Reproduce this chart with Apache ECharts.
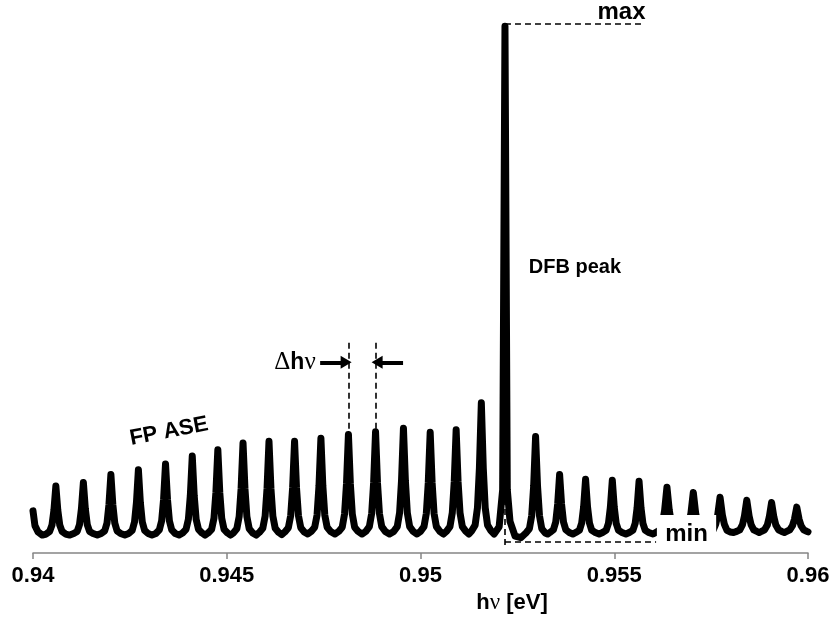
<!DOCTYPE html>
<html>
<head>
<meta charset="utf-8">
<script src="https://cdn.jsdelivr.net/npm/echarts@6/dist/echarts.min.js"></script>
<style>
  html, body { margin: 0; padding: 0; background: #ffffff; }
  #chart { width: 833px; height: 622px; }
</style>
</head>
<body>
<div id="chart"></div>
<script>
// Emission spectrum: photon energy [eV] vs. intensity [arb. units]
// Fabry-Perot ASE modes on the low-energy side of the DFB line
const fpLowSide = [
  [0.94000, 8.0], [0.94005, 5.2], [0.94013, 4.0], [0.94024, 3.4],
  [0.94034, 3.6], [0.94043, 4.1], [0.94049, 5.3], [0.94054, 8.1], [0.94059, 12.7], [0.94064, 8.1], [0.94069, 5.3], [0.94075, 4.1], [0.94084, 3.6], [0.94095, 3.4],
  [0.94105, 3.7], [0.94114, 4.1], [0.94120, 5.4], [0.94125, 8.4], [0.94130, 13.4], [0.94135, 8.4], [0.94140, 5.4], [0.94146, 4.1], [0.94155, 3.7], [0.94166, 3.4],
  [0.94176, 3.7], [0.94185, 4.2], [0.94191, 5.7], [0.94196, 9.2], [0.94201, 14.9], [0.94206, 9.2], [0.94211, 5.7], [0.94217, 4.2], [0.94226, 3.7], [0.94237, 3.4],
  [0.94247, 3.7], [0.94256, 4.3], [0.94262, 5.9], [0.94267, 9.6], [0.94272, 15.8], [0.94277, 9.6], [0.94282, 5.9], [0.94288, 4.3], [0.94297, 3.7], [0.94307, 3.4],
  [0.94317, 3.7], [0.94326, 4.4], [0.94332, 6.1], [0.94337, 10.2], [0.94342, 16.9], [0.94347, 10.2], [0.94352, 6.1], [0.94358, 4.4], [0.94367, 3.7], [0.94377, 3.4],
  [0.94386, 3.8], [0.94395, 4.5], [0.94401, 6.4], [0.94406, 10.9], [0.94411, 18.4], [0.94416, 10.9], [0.94421, 6.4], [0.94427, 4.5], [0.94436, 3.8], [0.94444, 3.4],
  [0.94452, 3.8], [0.94461, 4.5], [0.94467, 6.6], [0.94472, 11.5], [0.94477, 19.6], [0.94482, 11.5], [0.94487, 6.6], [0.94493, 4.5], [0.94502, 3.8], [0.94510, 3.4],
  [0.94517, 3.8], [0.94526, 4.6], [0.94532, 6.9], [0.94537, 12.2], [0.94542, 20.9], [0.94547, 12.2], [0.94552, 6.9], [0.94558, 4.6], [0.94567, 3.8], [0.94576, 3.4],
  [0.94584, 3.9], [0.94593, 4.7], [0.94599, 7.0], [0.94604, 12.3], [0.94609, 21.2], [0.94614, 12.3], [0.94619, 7.0], [0.94625, 4.7], [0.94634, 3.9], [0.94642, 3.5],
  [0.94650, 4.0], [0.94659, 4.8], [0.94665, 7.1], [0.94670, 12.4], [0.94675, 21.2], [0.94680, 12.4], [0.94685, 7.1], [0.94691, 4.8], [0.94700, 4.0], [0.94709, 3.6],
  [0.94718, 4.1], [0.94727, 4.9], [0.94733, 7.2], [0.94738, 12.7], [0.94743, 21.8], [0.94748, 12.7], [0.94753, 7.2], [0.94759, 4.9], [0.94768, 4.1], [0.94779, 3.6],
  [0.94789, 4.1], [0.94798, 4.9], [0.94804, 7.4], [0.94809, 13.1], [0.94814, 22.5], [0.94819, 13.1], [0.94824, 7.4], [0.94830, 4.9], [0.94839, 4.1], [0.94849, 3.6],
  [0.94859, 4.1], [0.94868, 5.0], [0.94874, 7.5], [0.94879, 13.3], [0.94884, 23.0], [0.94889, 13.3], [0.94894, 7.5], [0.94900, 5.0], [0.94909, 4.1], [0.94920, 3.6],
  [0.94931, 4.1], [0.94940, 5.0], [0.94946, 7.6], [0.94951, 13.7], [0.94956, 23.7], [0.94961, 13.7], [0.94966, 7.6], [0.94972, 5.0], [0.94981, 4.1], [0.94991, 3.6],
  [0.95000, 4.1], [0.95009, 5.0], [0.95015, 7.5], [0.95020, 13.3], [0.95025, 22.9], [0.95030, 13.3], [0.95035, 7.5], [0.95041, 5.0], [0.95050, 4.1], [0.95059, 3.6],
  [0.95067, 4.1], [0.95076, 5.0], [0.95082, 7.6], [0.95087, 13.5], [0.95092, 23.4], [0.95097, 13.5], [0.95102, 7.6], [0.95108, 5.0], [0.95117, 4.1], [0.95125, 3.6],
  [0.95132, 4.2], [0.95141, 5.3], [0.95147, 8.6], [0.95152, 16.1], [0.95157, 28.5], [0.95162, 16.1], [0.95167, 8.6], [0.95173, 5.3], [0.95182, 4.2], [0.95190, 3.6]
];

// The DFB lasing line
const dfbLine = [
  [0.95203, 5.0], [0.95212, 12.0], [0.95218, 100], [0.95224, 12.0], [0.95231, 6.0], [0.95244, 3.2], [0.95259, 2.9]
];

// Fabry-Perot ASE modes on the high-energy side
const fpHighSide = [
  [0.95272, 3.8], [0.95281, 4.6], [0.95287, 7.1], [0.95292, 12.7], [0.95297, 22.1], [0.95302, 12.7], [0.95307, 7.1], [0.95313, 4.6], [0.95322, 3.8], [0.95328, 3.6],
  [0.95334, 3.9], [0.95343, 4.4], [0.95349, 5.9], [0.95354, 9.3], [0.95359, 14.9], [0.95364, 9.3], [0.95369, 5.9], [0.95375, 4.4], [0.95384, 3.9], [0.95393, 3.6],
  [0.95401, 3.9], [0.95410, 4.3], [0.95416, 5.7], [0.95421, 8.8], [0.95426, 14.0], [0.95431, 8.8], [0.95436, 5.7], [0.95442, 4.3], [0.95451, 3.9], [0.95461, 3.6],
  [0.95470, 3.9], [0.95479, 4.3], [0.95485, 5.6], [0.95490, 8.7], [0.95495, 13.8], [0.95500, 8.7], [0.95505, 5.6], [0.95511, 4.3], [0.95520, 3.9], [0.95530, 3.6],
  [0.95539, 3.9], [0.95548, 4.3], [0.95554, 5.6], [0.95559, 8.6], [0.95564, 13.6], [0.95569, 8.6], [0.95574, 5.6], [0.95580, 4.3], [0.95589, 3.9], [0.95600, 3.6],
  [0.95610, 4.0], [0.95618, 4.4], [0.95625, 5.9], [0.95630, 8.1], [0.95636, 12.5], [0.95642, 8.1], [0.95647, 5.9], [0.95654, 4.4], [0.95662, 4.0], [0.95670, 3.7],
  [0.95678, 3.9], [0.95686, 4.3], [0.95693, 5.7], [0.95698, 7.6], [0.95704, 11.5], [0.95710, 7.6], [0.95715, 5.7], [0.95722, 4.3], [0.95730, 3.9], [0.95739, 3.8],
  [0.95747, 4.0], [0.95755, 4.3], [0.95762, 5.5], [0.95767, 7.2], [0.95773, 10.6], [0.95779, 7.2], [0.95784, 5.5], [0.95791, 4.3], [0.95799, 4.0], [0.95808, 3.9],
  [0.95816, 4.1], [0.95824, 4.4], [0.95831, 5.4], [0.95836, 7.0], [0.95842, 10.0], [0.95848, 7.0], [0.95853, 5.4], [0.95860, 4.4], [0.95868, 4.1], [0.95874, 3.9],
  [0.95880, 4.1], [0.95888, 4.4], [0.95895, 5.3], [0.95900, 6.8], [0.95906, 9.6], [0.95912, 6.8], [0.95917, 5.3], [0.95924, 4.4], [0.95932, 4.1], [0.95939, 3.9],
  [0.95945, 4.1], [0.95953, 4.4], [0.95960, 5.2], [0.95965, 6.4], [0.95971, 8.7], [0.95977, 6.4], [0.95982, 5.2], [0.95989, 4.4], [0.95997, 4.1], [0.96000, 4.0]
];

const tickLabels = ['0.94', '0.945', '0.95', '0.955', '0.96'];

// Reference levels and the mode-spacing marker
const dfbEnergy = 0.95218;
const maxLevel = 100.5;
const minLevel = 2.1;
const maxLineEnd = 0.95574;
const minLineEnd = 0.95608;
const modeA = [0.94814, 22.5];
const modeB = [0.94884, 23.0];
const markerTop = 39.9;
const arrowLevel = 36.2;
const arrowIn = [[0.94741, 0.94808], [0.94955, 0.94888]];

const spectrum = fpLowSide.concat(dfbLine, fpHighSide);

const sansBold = { fontFamily: '"Liberation Sans", Arial, sans-serif', fontWeight: 'bold', color: '#000' };
const dashed = { type: [6, 4], width: 1.6, color: '#000' };

const chart = echarts.init(document.getElementById('chart'), null, { renderer: 'canvas' });

chart.setOption({
  animation: false,
  backgroundColor: '#ffffff',
  grid: { left: 33, right: 25, top: 23, bottom: 69 },
  xAxis: {
    type: 'value',
    min: 0.94,
    max: 0.96,
    interval: 0.005,
    name: '{b|h}{g|\u03bd}{b| [eV]}',
    nameLocation: 'middle',
    nameGap: 36,
    nameTextStyle: {
      padding: [0, 0, 0, 183],
      rich: {
        b: Object.assign({ fontSize: 22 }, sansBold),
        g: { fontFamily: '"Liberation Serif", serif', fontSize: 23, color: '#000' }
      }
    },
    axisLine: { lineStyle: { color: '#858585', width: 1.5 } },
    axisTick: { length: 6, lineStyle: { color: '#858585', width: 1.5 } },
    splitLine: { show: false },
    axisLabel: Object.assign({
      fontSize: 22,
      margin: 12,
      formatter: (v, i) => tickLabels[i]
    }, sansBold)
  },
  yAxis: { type: 'value', min: 0, max: 100.6, show: false },
  series: [
    {
      type: 'line',
      data: spectrum,
      showSymbol: false,
      clip: false,
      lineStyle: { color: '#000', width: 7, join: 'round', cap: 'round' },
      z: 3,
      markLine: {
        silent: true,
        symbol: 'none',
        label: { show: false },
        lineStyle: dashed,
        data: [
          [{ coord: [dfbEnergy, 1.5] }, { coord: [dfbEnergy, maxLevel] }],
          [{ coord: [dfbEnergy, maxLevel] }, { coord: [maxLineEnd, maxLevel] }],
          [{ coord: [dfbEnergy, minLevel] }, { coord: [minLineEnd, minLevel] }],
          [{ coord: [modeA[0], markerTop] }, { coord: [modeA[0], modeA[1]] }],
          [{ coord: [modeB[0], markerTop] }, { coord: [modeB[0], modeB[1]] }]
        ]
      }
    },
    {
      type: 'line',
      data: [],
      markLine: {
        silent: true,
        symbol: ['none', 'triangle'],
        symbolSize: [13, 11],
        label: { show: false },
        lineStyle: { type: 'solid', width: 4, color: '#000' },
        data: arrowIn.map(a => [{ coord: [a[0], arrowLevel] }, { coord: [a[1], arrowLevel] }])
      }
    }
  ]
});

// Text annotations anchored to data coordinates
const at = (e, v) => chart.convertToPixel({ seriesIndex: 0 }, [e, v]);
const font = (size) => ({ fontFamily: '"Liberation Sans", Arial, sans-serif', fontWeight: 'bold', fontSize: size, fill: '#000' });

const maxPos = at(0.955187, 102.7);
const minPos = at(0.956865, 3.6);
const boxA = at(0.95610, 7.2);
const boxB = at(0.95763, 0.55);
const dfbPos = at(0.953987, 54.1);
const asePos = at(0.943510, 23.06);
const dhvPos = at(0.946761, 36.2);

chart.setOption({
  graphic: [
    {
      type: 'rect', z: 50,
      shape: { x: boxA[0], y: boxA[1], width: boxB[0] - boxA[0], height: boxB[1] - boxA[1] },
      style: { fill: '#ffffff' }
    },
    {
      type: 'text', z: 60, x: minPos[0], y: minPos[1],
      style: Object.assign({ text: 'min', align: 'center', verticalAlign: 'middle' }, font(24))
    },
    {
      type: 'text', z: 60, x: maxPos[0], y: maxPos[1],
      style: Object.assign({ text: 'max', align: 'center', verticalAlign: 'middle' }, font(24))
    },
    {
      type: 'text', z: 60, x: dfbPos[0], y: dfbPos[1],
      style: Object.assign({ text: 'DFB peak', align: 'center', verticalAlign: 'middle' }, font(20))
    },
    {
      type: 'text', z: 60, x: asePos[0], y: asePos[1], rotation: 11 * Math.PI / 180,
      style: Object.assign({ text: 'FP ASE', align: 'center', verticalAlign: 'middle' }, font(22))
    },
    {
      type: 'text', z: 60, x: dhvPos[0], y: dhvPos[1],
      style: {
        text: '{g|\u0394}{b|h}{g|\u03bd}',
        align: 'center', verticalAlign: 'middle',
        rich: {
          b: { fontFamily: '"Liberation Sans", Arial, sans-serif', fontWeight: 'bold', fontSize: 23, fill: '#000' },
          g: { fontFamily: '"Liberation Serif", serif', fontSize: 25, fill: '#000' }
        }
      }
    }
  ]
});
</script>
</body>
</html>
